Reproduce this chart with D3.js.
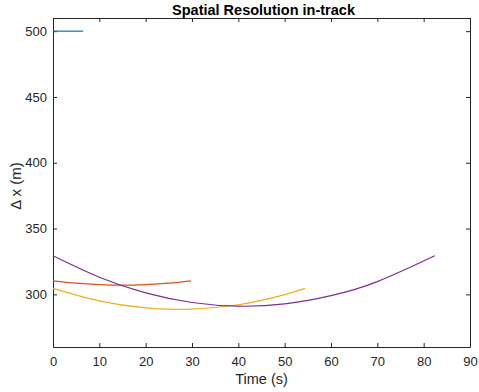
<!DOCTYPE html>
<html><head><meta charset="utf-8">
<script src="https://cdn.jsdelivr.net/npm/d3@7"></script>
<style>body{margin:0;background:#fff}</style>
</head><body>
<script>
const xTicks=[0,10,20,30,40,50,60,70,80,90];
const yTicks=[300,350,400,450,500];
const blueX=[0,6.5], blueY=[500,500];
const redX=[0,5,10,15,20,25,29.8], redY=[310.3,308.5,307.4,307.0,307.4,308.5,310.3];
const yellowX=[0,10,20,27,30,40,50,54.4], yellowY=[304.5,295.0,289.7,288.6,288.8,292.1,299.8,304.5];
const purpleX=[0,10,20,30,40,50,60,70,82.4], purpleY=[329.3,313.0,301.1,293.8,291.0,292.7,299.0,309.7,329.3];
const series=[
 {x:blueX,y:blueY,c:"#0072BD"},
 {x:redX,y:redY,c:"#D95319"},
 {x:yellowX,y:yellowY,c:"#EDB120"},
 {x:purpleX,y:purpleY,c:"#7E2F8E"}];
const W=479,H=392,L=53,R=470,T=18,B=347;
const svg=d3.select("body").append("svg").attr("width",W).attr("height",H).style("font-family","'Liberation Sans',Arial,sans-serif");
const x=d3.scaleLinear().domain([0,90]).range([L,R]);
const y=d3.scaleLinear().domain([260,510]).range([B,T]);
const col="#262626";
const g=svg.append("g");
g.append("g").attr("transform",`translate(0,${B})`).call(d3.axisBottom(x).tickValues(xTicks).tickSizeInner(-4).tickSizeOuter(0).tickPadding(10));
g.append("g").attr("transform",`translate(0,${T})`).call(d3.axisTop(x).tickValues(xTicks).tickSizeInner(-4).tickSizeOuter(0).tickFormat(""));
g.append("g").attr("transform",`translate(${L},0)`).call(d3.axisLeft(y).tickValues(yTicks).tickSizeInner(-4).tickSizeOuter(0).tickPadding(6));
g.append("g").attr("transform",`translate(${R},0)`).call(d3.axisRight(y).tickValues(yTicks).tickSizeInner(-4).tickSizeOuter(0).tickFormat(""));
g.selectAll(".domain").attr("stroke",col).attr("stroke-width",1);
g.selectAll(".tick line").attr("stroke",col);
g.selectAll(".tick text").attr("fill",col).style("font-size","13px").style("font-family","'Liberation Sans',Arial,sans-serif");
const line=d3.line().x(d=>x(d[0])).y(d=>y(d[1])).curve(d3.curveNatural);
series.forEach(s=>{
 svg.append("path").datum(s.x.map((v,i)=>[v,s.y[i]])).attr("d",line).attr("fill","none").attr("stroke",s.c).attr("stroke-width",1.2);
});
svg.append("text").attr("x",(L+R)/2+2).attr("y",15).attr("text-anchor","middle").attr("font-weight","bold").attr("font-size","14.5px").attr("fill","#000").text("Spatial Resolution in-track");
svg.append("text").attr("x",(L+R)/2).attr("y",384).attr("text-anchor","middle").attr("font-size","14.5px").attr("fill",col).text("Time (s)");
svg.append("text").attr("transform",`translate(21,186) rotate(-90)`).attr("text-anchor","middle").attr("font-size","15px").attr("fill",col).text("Δ x (m)");
</script>
</body></html>
